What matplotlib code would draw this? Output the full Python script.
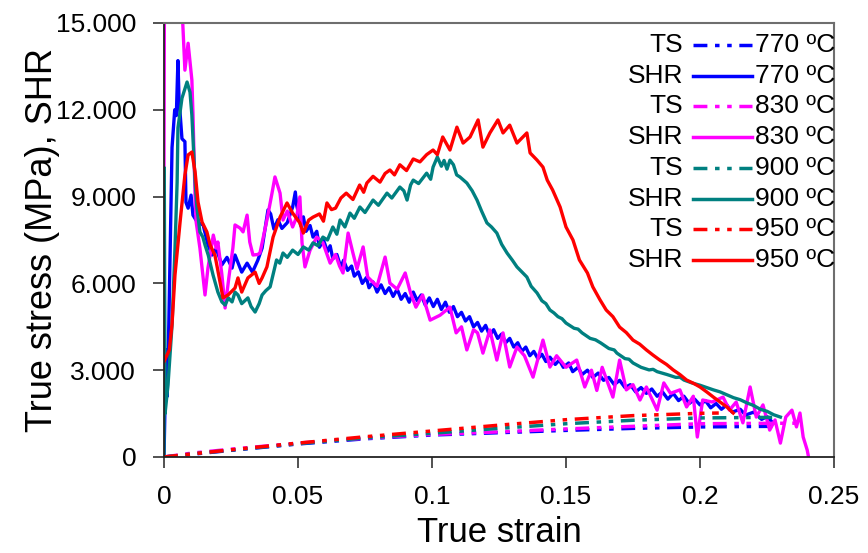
import matplotlib
matplotlib.use("Agg")
import matplotlib.pyplot as plt
from matplotlib.ticker import FuncFormatter
from matplotlib.lines import Line2D

plt.rcParams["font.family"] = ["Liberation Sans", "DejaVu Sans"]

# ---- data: (true strain, value) ----
temps = ["770 ºC", "830 ºC", "900 ºC", "950 ºC"]
colors = ["#0000ff", "#ff00ff", "#008080", "#ff0000"]

ts_770 = [(0, 0), (0.01, 90), (0.025, 230), (0.05, 450), (0.075, 630), (0.1, 760),
          (0.125, 840), (0.15, 920), (0.175, 990), (0.2, 1040), (0.227, 1060)]
ts_830 = [(0, 0), (0.01, 130), (0.025, 270), (0.05, 480), (0.075, 650), (0.1, 780),
          (0.125, 870), (0.15, 970), (0.175, 1060), (0.2, 1150), (0.238, 1170)]
ts_900 = [(0, 0), (0.01, 100), (0.025, 240), (0.05, 460), (0.075, 660), (0.1, 820),
          (0.125, 990), (0.15, 1150), (0.175, 1270), (0.2, 1350), (0.227, 1370)]
ts_950 = [(0, 0), (0.01, 100), (0.025, 250), (0.05, 480), (0.075, 700), (0.1, 900),
          (0.125, 1100), (0.15, 1290), (0.175, 1430), (0.2, 1510), (0.207, 1520)]

shr_770 = [
    (0, 0), (0.0008, 3700), (0.0012, 2100), (0.0018, 4600), (0.003, 10700), (0.004, 12000),
    (0.0046, 11800), (0.0052, 13700), (0.0056, 12400), (0.0067, 11000), (0.0078, 10900),
    (0.0082, 8800), (0.009, 8600), (0.0101, 9050), (0.0108, 8360), (0.0124, 8120),
    (0.0146, 8020), (0.0164, 7330), (0.018, 6980), (0.0195, 7200), (0.0216, 6640),
    (0.0235, 6900), (0.0254, 6530), (0.0265, 6980), (0.029, 6390), (0.031, 6700),
    (0.033, 6390), (0.035, 6800), (0.0366, 7220), (0.0388, 8540), (0.0398, 8400),
    (0.041, 7880), (0.0425, 8200), (0.044, 7900), (0.046, 8100), (0.048, 8640),
    (0.049, 9160), (0.0495, 8700), (0.0500, 8500), (0.0510, 8000), (0.0520, 8300),
    (0.0530, 7800), (0.0545, 8000), (0.0556, 7600), (0.0570, 7800), (0.0580, 7250),
    (0.0595, 7500), (0.0610, 7100), (0.0620, 7300), (0.0630, 6850), (0.0645, 7000),
    (0.0660, 6550), (0.0670, 6800), (0.0685, 6450), (0.0700, 6600), (0.0710, 6250),
    (0.0725, 6400), (0.0740, 6000), (0.0755, 6200), (0.0765, 5850), (0.0780, 6050),
    (0.0795, 5700), (0.0810, 5950), (0.0825, 5650), (0.0840, 5850), (0.0855, 5550),
    (0.0870, 5800), (0.0885, 5450), (0.0900, 5650), (0.0915, 5350), (0.0930, 5700),
    (0.0945, 5400), (0.0960, 5600), (0.0975, 5250), (0.0990, 5500), (0.1005, 5200),
    (0.1020, 5450), (0.1035, 5100), (0.1050, 5350), (0.1065, 5000), (0.1080, 5200),
    (0.1095, 4850), (0.1110, 5000), (0.1125, 4700), (0.1140, 4850), (0.1155, 4500),
    (0.1170, 4650), (0.1185, 4350), (0.1200, 4550), (0.1215, 4200), (0.1230, 4400),
    (0.1245, 4100), (0.1260, 4250), (0.1275, 3950), (0.1290, 4100), (0.1305, 3800),
    (0.1320, 3950), (0.1335, 3650), (0.1350, 3800), (0.1365, 3500), (0.1380, 3650),
    (0.1395, 3400), (0.1410, 3550), (0.1425, 3300), (0.1440, 3450), (0.1460, 3200),
    (0.1475, 3350), (0.1490, 3100), (0.1510, 3250), (0.1525, 2950), (0.1545, 3100),
    (0.1560, 2850), (0.1580, 3000), (0.1600, 2750), (0.1620, 2900), (0.1640, 2650),
    (0.1660, 2750), (0.1680, 2500), (0.1700, 2650), (0.1720, 2400), (0.1740, 2500),
    (0.1760, 2250), (0.1780, 2400), (0.1800, 2200), (0.1820, 2350), (0.1840, 2100),
    (0.1860, 2250), (0.1880, 2000), (0.1900, 2200), (0.1920, 1950), (0.1940, 2100),
    (0.1960, 1850), (0.1980, 2000), (0.2000, 1800), (0.2020, 1950), (0.2040, 1700),
    (0.2060, 1850), (0.2080, 1650), (0.2100, 1800), (0.2120, 1550), (0.2150, 1650),
    (0.2170, 1450), (0.2200, 1550), (0.2230, 1300), (0.2250, 1400), (0.2270, 1200),
]

shr_830 = [
    (0, 10000), (0.0004, 25000), (0.0065, 16000), (0.0078, 13370), (0.009, 14300),
    (0.0104, 13030), (0.0108, 11890), (0.0112, 10440), (0.0116, 8950), (0.012, 8120),
    (0.0134, 7220), (0.0153, 5600), (0.0164, 6530), (0.0184, 7670), (0.0195, 7220),
    (0.0201, 7430), (0.0216, 6300), (0.0228, 5150), (0.0242, 6200), (0.0257, 7220),
    (0.0265, 8020), (0.0284, 7910), (0.0295, 7780), (0.031, 8360), (0.032, 7430),
    (0.0332, 6980), (0.035, 7000), (0.0358, 7050), (0.0384, 8190), (0.0403, 9120),
    (0.0414, 9680), (0.0433, 9120), (0.0444, 8190), (0.046, 8500), (0.048, 7950),
    (0.0495, 8300), (0.0507, 8990), (0.0515, 7400), (0.0526, 6570), (0.0545, 7150),
    (0.057, 7600), (0.0593, 7400), (0.062, 6700), (0.064, 7000), (0.0655, 6600),
    (0.0668, 6360), (0.0687, 7740), (0.0705, 7050), (0.072, 6500), (0.0743, 7260),
    (0.076, 6220), (0.0795, 5900), (0.0825, 6910), (0.0843, 6010), (0.087, 5800),
    (0.09, 6360), (0.092, 5670), (0.094, 5180), (0.0965, 5600), (0.0993, 4730),
    (0.103, 4900), (0.1067, 5180), (0.109, 4290), (0.111, 4500), (0.113, 3700),
    (0.1155, 4400), (0.117, 4290), (0.119, 3590), (0.1216, 4390), (0.1242, 3350),
    (0.1265, 4290), (0.129, 3110), (0.1317, 3800), (0.1345, 3500), (0.1377, 2760),
    (0.1414, 4040), (0.144, 3110), (0.1465, 3500), (0.150, 3100), (0.154, 3350),
    (0.157, 2420), (0.1595, 3000), (0.1615, 2300), (0.1635, 3100), (0.1675, 2070),
    (0.170, 3350), (0.1725, 2320), (0.175, 2500), (0.1776, 1970), (0.18, 2420),
    (0.184, 1620), (0.1865, 2560), (0.189, 2200), (0.1925, 2320), (0.195, 1730),
    (0.1975, 2100), (0.199, 690), (0.201, 1970), (0.2045, 1900), (0.2086, 2070),
    (0.211, 1620), (0.2135, 1900), (0.216, 1180), (0.2187, 2420), (0.221, 1380),
    (0.2235, 1800), (0.226, 930), (0.228, 1280), (0.23, 480), (0.232, 1380),
    (0.2343, 1620), (0.236, 1040), (0.2373, 1520), (0.2385, 690), (0.24, 240), (0.2405, 0),
]

shr_900 = [
    (0, 0), (0.0001, 10000), (0.0004, 1500), (0.0015, 2500), (0.003, 4560), (0.0041, 7220),
    (0.0049, 9500), (0.0052, 11370), (0.0067, 12400), (0.0086, 12960), (0.0097, 12610),
    (0.0104, 11820), (0.011, 10680), (0.0116, 9500), (0.0123, 8600), (0.0134, 7780),
    (0.0145, 7600), (0.0153, 7330), (0.0165, 6980), (0.0183, 6290), (0.0201, 5700),
    (0.0216, 5360), (0.0228, 5250), (0.0240, 5500), (0.0254, 5360), (0.0265, 5700),
    (0.0276, 5600), (0.029, 5300), (0.0313, 5500), (0.0325, 5200), (0.034, 5010),
    (0.0355, 5300), (0.0366, 5600), (0.0380, 5750), (0.0396, 5880), (0.042, 6810),
    (0.0432, 6700), (0.0444, 7050), (0.046, 6900), (0.048, 7150), (0.050, 7000),
    (0.052, 7260), (0.054, 7150), (0.0556, 7400), (0.0575, 7300), (0.0593, 7600),
    (0.061, 7500), (0.063, 7950), (0.0645, 7700), (0.0657, 8190), (0.0675, 7950),
    (0.0694, 8430), (0.071, 8250), (0.0731, 8640), (0.075, 8450), (0.078, 8880),
    (0.080, 8700), (0.0832, 9120), (0.085, 8950), (0.088, 9330), (0.0895, 9200),
    (0.0907, 8880), (0.092, 9400), (0.093, 9570), (0.095, 9450), (0.098, 9810),
    (0.0995, 9600), (0.1004, 10020), (0.102, 10370), (0.1035, 10050), (0.1045, 10250),
    (0.1056, 9950), (0.1067, 10260), (0.108, 10100), (0.1092, 9750), (0.1104, 9680),
    (0.112, 9550), (0.113, 9470), (0.1150, 9200), (0.1168, 8880), (0.1185, 8500),
    (0.1205, 8090), (0.1222, 7950), (0.1242, 7740), (0.126, 7350), (0.128, 7050),
    (0.130, 6800), (0.1317, 6570), (0.1335, 6400), (0.1354, 6220), (0.137, 5900),
    (0.1392, 5670), (0.141, 5400), (0.1425, 5300), (0.144, 5080), (0.1455, 4980),
    (0.147, 4850), (0.1485, 4780), (0.150, 4630), (0.153, 4450), (0.1545, 4420),
    (0.156, 4290), (0.159, 4100), (0.161, 4050), (0.163, 3940), (0.166, 3750),
    (0.168, 3700), (0.169, 3590), (0.172, 3400), (0.1735, 3380), (0.175, 3250),
    (0.178, 3100), (0.181, 3010), (0.1825, 3030), (0.184, 2950), (0.1877, 2850),
    (0.191, 2750), (0.1925, 2760), (0.194, 2660), (0.197, 2560), (0.200, 2480),
    (0.2025, 2400), (0.205, 2320), (0.2075, 2250), (0.210, 2150), (0.2125, 2050),
    (0.215, 1980), (0.2175, 1870), (0.220, 1780), (0.2225, 1650), (0.225, 1580),
    (0.2275, 1460), (0.230, 1380),
]

shr_950 = [
    (0, 3300), (0.001, 3500), (0.002, 3700), (0.003, 4600), (0.0041, 6290), (0.006, 8120),
    (0.0078, 9750), (0.009, 10440), (0.0104, 10540), (0.0116, 9850), (0.0127, 8810),
    (0.0142, 8120), (0.016, 7780), (0.0172, 7330), (0.019, 6980), (0.0209, 6050),
    (0.022, 5500), (0.0239, 5600), (0.0265, 5840), (0.0276, 6190), (0.029, 5700),
    (0.0313, 6190), (0.034, 6390), (0.0355, 6000), (0.0366, 6190), (0.0384, 6570),
    (0.0407, 7600), (0.0433, 8290), (0.0459, 8780), (0.048, 8430), (0.0507, 8090),
    (0.052, 7740), (0.054, 8190), (0.0556, 8290), (0.058, 8400), (0.0595, 8150),
    (0.0608, 8780), (0.0625, 8550), (0.064, 8600), (0.066, 8950), (0.068, 9120),
    (0.0705, 8900), (0.073, 9400), (0.0745, 9150), (0.0757, 9470), (0.078, 9700),
    (0.0806, 9500), (0.0825, 9800), (0.0843, 9920), (0.086, 9750), (0.088, 10100),
    (0.0905, 9900), (0.093, 10300), (0.0955, 10200), (0.098, 10450), (0.1004, 10610),
    (0.102, 10450), (0.104, 11060), (0.1067, 10610), (0.1093, 11400), (0.1116, 10850),
    (0.1142, 11060), (0.1172, 11650), (0.119, 10710), (0.1216, 11200), (0.1246, 11650),
    (0.1265, 11200), (0.129, 11470), (0.1317, 10850), (0.1354, 11200), (0.1366, 10510),
    (0.1392, 10260), (0.1414, 10020), (0.143, 9570), (0.145, 9230), (0.1478, 8640),
    (0.150, 7950), (0.1526, 7500), (0.155, 6810), (0.158, 6360), (0.160, 5880),
    (0.1627, 5430), (0.165, 5080), (0.1675, 4850), (0.170, 4490), (0.1725, 4300),
    (0.175, 4040), (0.1775, 3900), (0.18, 3700), (0.1825, 3520), (0.185, 3350),
    (0.1875, 3200), (0.19, 3010), (0.1925, 2850), (0.195, 2660), (0.1975, 2550),
    (0.2, 2420), (0.2025, 2250), (0.205, 2070), (0.2075, 1900), (0.21, 1730), (0.2124, 1520),
]

ts_series = [ts_770, ts_830, ts_900, ts_950]
shr_series = [shr_770, shr_830, shr_900, shr_950]

# long dash, short, short (Excel-like), scaled by line width
TS_DASH = (0, (4, 2.2, 1.3, 2.2, 1.3, 2.2))


def thousands(v, _pos):
    return "0" if v == 0 else f"{v:,.0f}".replace(",", ".")


def strain_fmt(v, _pos):
    return "0" if v == 0 else f"{v:g}"


fig = plt.figure(figsize=(8.68, 5.53), dpi=100)
ax = fig.add_axes([164 / 868, 96 / 553, 670 / 868, 434 / 553])

for ts, shr, c in zip(ts_series, shr_series, colors):
    ax.plot([p[0] for p in ts], [p[1] for p in ts], color=c, lw=2.5, ls=TS_DASH)
    ax.plot([p[0] for p in shr], [p[1] for p in shr], color=c, lw=2.4)

ax.set_xlim(0, 0.25)
ax.set_ylim(0, 15000)
ax.set_xticks([0, 0.05, 0.1, 0.15, 0.2, 0.25])
ax.set_yticks([0, 3000, 6000, 9000, 12000, 15000])
ax.xaxis.set_major_formatter(FuncFormatter(strain_fmt))
ax.yaxis.set_major_formatter(FuncFormatter(thousands))
ax.tick_params(direction="out", length=8, width=1.2, color="#333333",
               labelsize=19, pad=12)

for side in ("left", "bottom"):
    ax.spines[side].set_color("#222222")
    ax.spines[side].set_linewidth(1.3)
for side in ("top", "right"):
    ax.spines[side].set_color("#6e6e6e")
    ax.spines[side].set_linewidth(1.5)

ax.set_xlabel("True strain", fontsize=25, labelpad=5)
ax.set_ylabel("True stress (MPa), SHR", fontsize=26, labelpad=-3)

# legend drawn by hand: prefix | line sample | temperature
row = 0
for c, t in zip(colors, temps):
    for prefix, style in (("TS", TS_DASH), ("SHR", "-")):
        py = 45 + 30.7 * row
        y = (457 - py) / 434
        ax.text(0.7746, y, prefix, transform=ax.transAxes, ha="right", va="center",
                fontsize=19)
        ax.add_line(Line2D([0.790, 0.878], [y, y], transform=ax.transAxes,
                           color=c, lw=2.5, ls=style))
        ax.text(0.8820, y, t, transform=ax.transAxes, ha="left", va="center",
                fontsize=19)
        row += 1

fig.savefig("out.png", dpi=100)
